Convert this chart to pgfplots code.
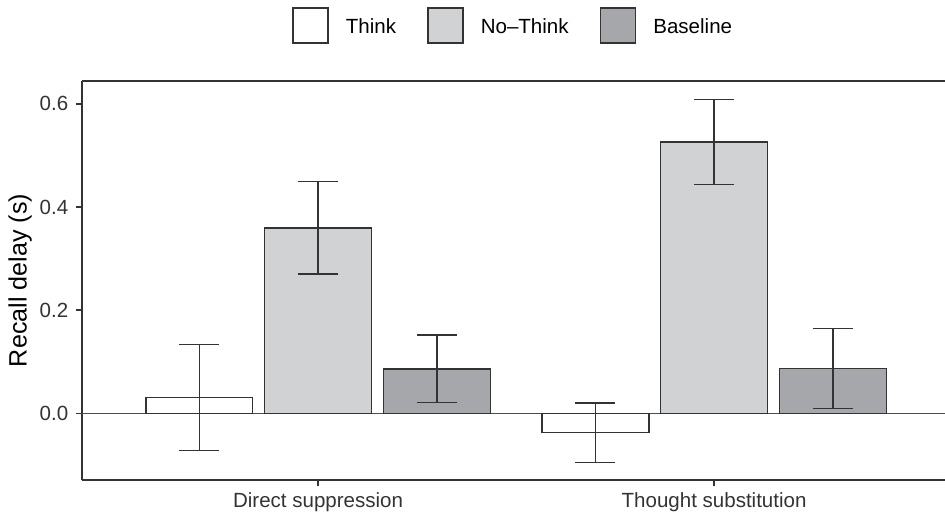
\documentclass[border=0pt]{standalone}
\usepackage{pgfplots}
\pgfplotsset{compat=1.18}
\usepackage{pgfplotstable}
\usepackage{fontspec}
\setmainfont{Liberation Sans}
\definecolor{nothink}{HTML}{D1D2D4}
\definecolor{baseline}{HTML}{A6A7AA}
\definecolor{edge}{HTML}{333333}

\pgfplotstableread{
x y ep em
-0.3 0.031 0.102 0.103
0.7 -0.037 0.057 0.058
}\think
\pgfplotstableread{
x y ep em
0.0 0.359 0.090 0.089
1.0 0.526 0.082 0.083
}\nothink
\pgfplotstableread{
x y ep em
0.3 0.086 0.066 0.065
1.3 0.087 0.077 0.077
}\base

\begin{document}
\begin{tikzpicture}
\useasboundingbox (0,0) rectangle (472.5bp,257.5bp);
\begin{axis}[
  at={(41bp,17.5bp)}, anchor=south west,
  width=431.5bp, height=199.5bp, scale only axis,
  xmin=-0.596, xmax=1.583, ymin=-0.129, ymax=0.644,
  axis x line*=box, axis y line*=left,
  axis line style={edge, line width=0.85bp},
  xtick={0,1}, xticklabels={Direct suppression, Thought substitution},
  ytick={0,0.2,0.4,0.6},
  xtick pos=bottom, ytick pos=left,
  tick align=outside, major tick length=3.2bp,
  tick style={edge, line width=0.85bp},
  /pgf/number format/assume math mode=true,
  yticklabel={\pgfmathprintnumber[fixed, fixed zerofill, precision=1]{\tick}},
  tick label style={font=\fontsize{10.3}{12}\selectfont, text=black!80},
  yticklabel style={inner xsep=3.5bp},
  xticklabel style={inner ysep=3bp},
  ylabel={Recall delay (s)},
  every axis y label/.style={at={(axis description cs:-0.0718,0.5)}, rotate=90, anchor=center, font=\fontsize{12.6}{14}\selectfont},
  legend columns=3,
  legend style={at={(0.243,1.1391)}, anchor=west, draw=none, fill=none, inner sep=0pt,
    font=\fontsize{10.3}{12}\selectfont,
    /tikz/every even column/.append style={column sep=15.5bp},
    nodes={inner sep=0pt}},
  legend image code/.code={\draw[#1, line width=0.75bp] (0bp,-7.75bp) rectangle (17.5bp,9.75bp); \path[draw=none, fill=none] (0,0) rectangle (26.5bp,0.1bp);},
  clip=false,
]
\draw[black!70, line width=0.5bp] (axis cs:-0.596,0) -- (axis cs:1.583,0);
\addplot[ybar, bar width=0.27, bar shift=0pt, draw=edge, fill=white, line width=0.75bp,
  error bars/.cd, y dir=both, y explicit, error mark=|,
  error bar style={line width=0.7bp, edge},
  error mark options={mark size=10bp, line width=0.7bp, edge}]
  table[x=x, y=y, y error plus=ep, y error minus=em] {\think};
\addlegendentry{Think}
\addplot[ybar, bar width=0.27, bar shift=0pt, draw=edge, fill=nothink, line width=0.75bp,
  error bars/.cd, y dir=both, y explicit, error mark=|,
  error bar style={line width=0.7bp, edge},
  error mark options={mark size=10bp, line width=0.7bp, edge}]
  table[x=x, y=y, y error plus=ep, y error minus=em] {\nothink};
\addlegendentry{No–Think}
\addplot[ybar, bar width=0.27, bar shift=0pt, draw=edge, fill=baseline, line width=0.75bp,
  error bars/.cd, y dir=both, y explicit, error mark=|,
  error bar style={line width=0.7bp, edge},
  error mark options={mark size=10bp, line width=0.7bp, edge}]
  table[x=x, y=y, y error plus=ep, y error minus=em] {\base};
\addlegendentry{Baseline}
\end{axis}
\end{tikzpicture}
\end{document}
